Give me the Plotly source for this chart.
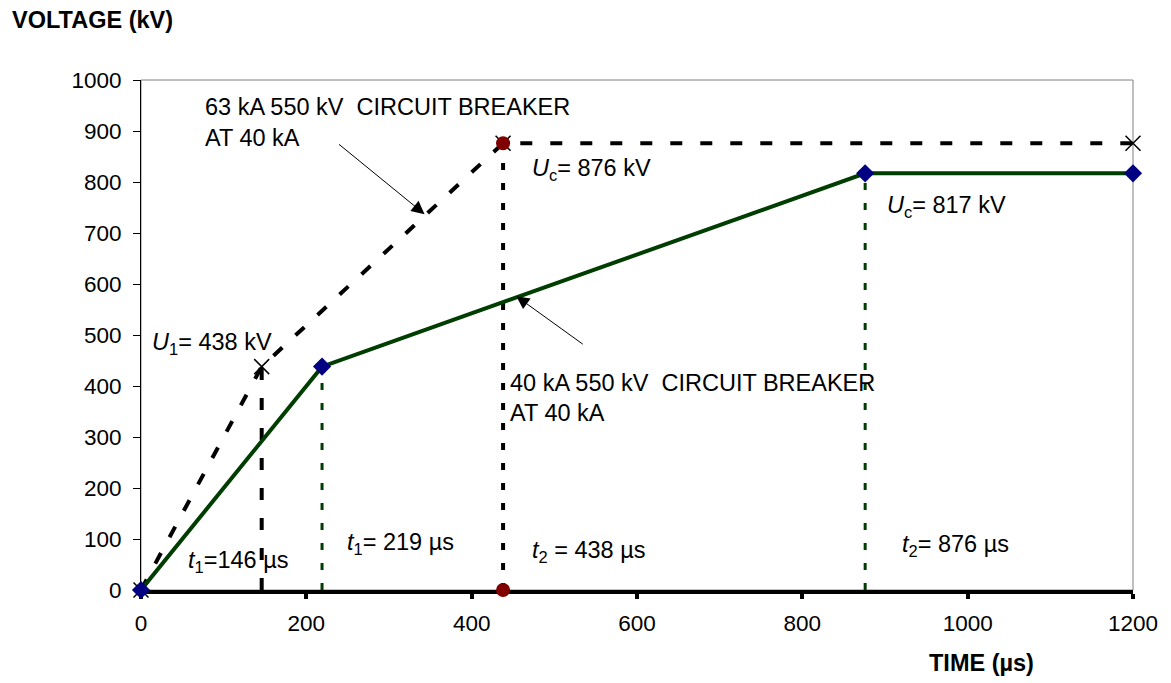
import plotly.graph_objects as go

# ---- data ----
t_40 = [0, 219, 876, 1200]          # 40 kA breaker, µs
u_40 = [0, 438, 817, 817]           # kV
t_63 = [0, 146, 438, 1200]          # 63 kA breaker at 40 kA, µs
u_63 = [0, 438, 876, 876]           # kV
vline_63_t = [146, 438]
vline_63_u = [438, 876]
vline_40_t = [219, 876]
vline_40_u = [438, 817]
red_t = [438, 438]
red_u = [876, 0]
x_ticks = [0, 200, 400, 600, 800, 1000, 1200]
y_ticks = [0, 100, 200, 300, 400, 500, 600, 700, 800, 900, 1000]

FONT = "Liberation Sans, Arial, sans-serif"
GREEN = "#003d00"
NAVY = "#000080"
DARKRED = "#800000"
TXT = 23.5
TICK = 22.5

fig = go.Figure()

# vertical dashed/dotted guide lines
for t, u in zip(vline_63_t, vline_63_u):
    dash = "12px,18px" if t == vline_63_t[0] else "7px,13px"
    fig.add_trace(go.Scatter(x=[t, t], y=[0, u], mode="lines",
                             line=dict(color="black", width=4, dash=dash),
                             hoverinfo="skip", showlegend=False))
for t, u in zip(vline_40_t, vline_40_u):
    fig.add_trace(go.Scatter(x=[t, t], y=[0, u], mode="lines",
                             line=dict(color=GREEN, width=3, dash="7px,13px"),
                             hoverinfo="skip", showlegend=False))

# 63 kA breaker curve (dashed)
fig.add_trace(go.Scatter(x=t_63, y=u_63, mode="lines+markers",
                         line=dict(color="black", width=4, dash="12px,18px"),
                         marker=dict(symbol="x-thin-open", size=15,
                                     line=dict(color="black", width=1.5)),
                         hoverinfo="skip", showlegend=False, cliponaxis=False))

# 40 kA breaker curve (solid)
fig.add_trace(go.Scatter(x=t_40, y=u_40, mode="lines+markers",
                         line=dict(color=GREEN, width=4),
                         marker=dict(symbol="diamond", size=14, color=NAVY),
                         hoverinfo="skip", showlegend=False, cliponaxis=False))

# red points
fig.add_trace(go.Scatter(x=red_t, y=red_u, mode="markers",
                         marker=dict(symbol="circle", size=14, color=DARKRED),
                         hoverinfo="skip", showlegend=False, cliponaxis=False))

ann_font = dict(family=FONT, size=TXT, color="black")

def txt(x, y, s):
    fig.add_annotation(x=x, y=y, xref="x", yref="y", text=s, showarrow=False,
                       xanchor="left", yanchor="middle", align="left", font=ann_font)

txt(75, 947, "63 kA 550 kV&nbsp; CIRCUIT BREAKER")
txt(75, 886, "AT 40 kA")
txt(470, 824, "<i>U</i><sub>c</sub>= 876 kV")
txt(900, 751, "<i>U</i><sub>c</sub>= 817 kV")
txt(11, 484, "<i>U</i><sub>1</sub>= 438 kV")
txt(444, 406, "40 kA 550 kV&nbsp; CIRCUIT BREAKER")
txt(444, 347, "AT 40 kA")
txt(54, 55, "<i>t</i><sub>1</sub>=146 µs")
txt(247, 92, "<i>t</i><sub>1</sub>= 219 µs")
txt(470, 76, "<i>t</i><sub>2</sub> = 438 µs")
txt(918, 88, "<i>t</i><sub>2</sub>= 876 µs")

# arrows
fig.add_annotation(x=343, y=737, xref="x", yref="y", text="", showarrow=True,
                   ax=-87, ay=-71, arrowhead=2, arrowsize=2.6, arrowwidth=1,
                   arrowcolor="black")
fig.add_annotation(x=454, y=576, xref="x", yref="y", text="", showarrow=True,
                   ax=68, ay=49, arrowhead=2, arrowsize=2.6, arrowwidth=1,
                   arrowcolor="black")

W, H = 1171, 683
L, R, T, B = 141, 38, 80, 93

def px_to_paper(px, py):
    return (px - L) / (W - L - R), (H - B - py) / (H - T - B)

# axis titles
vx, vy = px_to_paper(10, 20)
fig.add_annotation(x=vx, y=vy, xref="paper", yref="paper", text="<b>VOLTAGE (kV)</b>",
                   showarrow=False, xanchor="left", yanchor="middle", font=ann_font)
tx, ty = px_to_paper(927, 663)
fig.add_annotation(x=tx, y=ty, xref="paper", yref="paper", text="<b>TIME (µs)</b>",
                   showarrow=False, xanchor="left", yanchor="middle", font=ann_font)

# gray frame top/right
fig.add_shape(type="rect", xref="paper", yref="paper", x0=0, y0=0, x1=1, y1=1,
              line=dict(color="#808080", width=1), layer="below")

fig.update_layout(
    width=W, height=H,
    margin=dict(l=L, r=R, t=T, b=B, pad=0),
    paper_bgcolor="white", plot_bgcolor="white",
    font=dict(family=FONT, size=TICK, color="black"),
    xaxis=dict(range=[0, 1200], tickvals=x_ticks, showgrid=False, zeroline=False,
               showline=True, linecolor="black", linewidth=4, layer="below traces",
               ticks="outside", ticklen=5, tickwidth=4, tickcolor="black",
               ticklabelstandoff=5,
               tickfont=dict(family=FONT, size=TICK, color="black")),
    yaxis=dict(range=[0, 1000], tickvals=y_ticks, showgrid=False, zeroline=False,
               showline=True, linecolor="black", linewidth=1, layer="below traces",
               ticks="outside", ticklen=7, tickwidth=1, tickcolor="black",
               ticklabelstandoff=7,
               tickfont=dict(family=FONT, size=TICK, color="black")),
    showlegend=False,
)

fig.write_html("out.html", config={"displayModeBar": False},
               post_script="document.body.style.margin='0px';")
